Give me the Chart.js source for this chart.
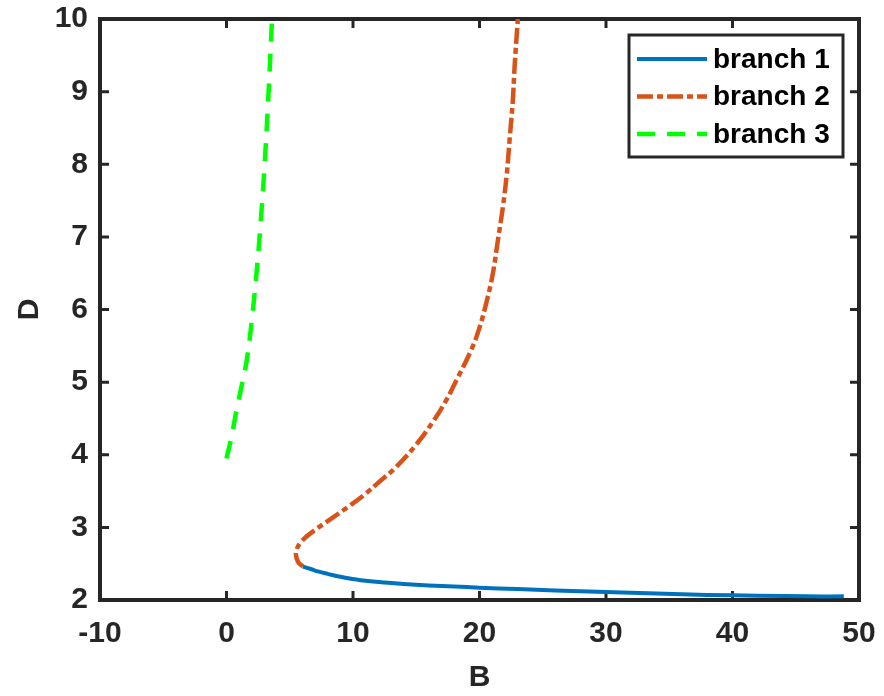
<!DOCTYPE html>
<html><head><meta charset="utf-8">
<script src="https://cdn.jsdelivr.net/npm/chart.js@4.4.1/dist/chart.umd.min.js"></script>
<style>html,body{margin:0;padding:0;background:#fff}#wrap{width:884px;height:696px}</style>
</head><body><div id="wrap"><canvas id="c" width="884" height="696"></canvas></div>
<script>
// ---- data ----
const seriesLabels = ['branch 1', 'branch 2', 'branch 3'];
const branch1B = [6.03, 6.6, 7.3, 8, 9, 10, 11, 12.5, 14, 16, 18, 20, 23, 26, 30, 34, 38, 42, 46, 48.8];
const branch1D = [2.46, 2.43, 2.39, 2.36, 2.32, 2.29, 2.265, 2.24, 2.22, 2.20, 2.185, 2.17, 2.15, 2.13, 2.11, 2.09, 2.07, 2.06, 2.05, 2.05];
const branch2B = [6.03, 5.64, 5.5, 5.9, 6.96, 8.28, 9.59, 10.9, 11.96, 13.4, 15.0, 16.3, 17.37, 18.16, 19.34, 20.0, 20.58, 21.05, 21.45, 21.84, 22.16, 22.37, 22.63, 22.77, 23.03];
const branch2D = [2.46, 2.53, 2.66, 2.80, 2.96, 3.12, 3.28, 3.45, 3.61, 3.83, 4.14, 4.45, 4.75, 5.02, 5.44, 5.75, 6.12, 6.49, 6.95, 7.40, 7.87, 8.32, 8.87, 9.33, 10];
const branch3B = [0, 0.4, 0.8, 1.2, 1.6, 2.0, 2.4, 2.7, 3.0, 3.3, 3.6];
const branch3D = [3.95, 4.25, 4.62, 4.95, 5.3, 5.85, 6.55, 7.2, 7.95, 8.9, 10];
const xTicks = [-10, 0, 10, 20, 30, 40, 50];
const yTicks = [2, 3, 4, 5, 6, 7, 8, 9, 10];

const toPts = (xs, ys) => xs.map((x, i) => ({x: x, y: ys[i]}));
const INK = '#262626';
const FONT = "'Liberation Sans', Arial, sans-serif";

const framePlugin = {
  id: 'frame',
  beforeDatasetsDraw(chart) {
    const ctx = chart.ctx, ca = chart.chartArea;
    const xs = chart.scales.x, ys = chart.scales.y;
    ctx.save();
    ctx.strokeStyle = INK;
    ctx.lineWidth = 4;
    ctx.lineCap = 'square';
    ctx.strokeRect(ca.left, ca.top, ca.right - ca.left, ca.bottom - ca.top);
    ctx.lineWidth = 3;
    ctx.lineCap = 'butt';
    const L = 9;
    xTicks.forEach(v => {
      const p = xs.getPixelForValue(v);
      ctx.beginPath();
      ctx.moveTo(p, ca.bottom); ctx.lineTo(p, ca.bottom - L);
      ctx.moveTo(p, ca.top); ctx.lineTo(p, ca.top + L);
      ctx.stroke();
    });
    yTicks.forEach(v => {
      const p = ys.getPixelForValue(v);
      ctx.beginPath();
      ctx.moveTo(ca.left, p); ctx.lineTo(ca.left + L, p);
      ctx.moveTo(ca.right, p); ctx.lineTo(ca.right - L, p);
      ctx.stroke();
    });
    ctx.restore();
  }
};

const legendPlugin = {
  id: 'boxLegend',
  afterDraw(chart) {
    const ctx = chart.ctx, ca = chart.chartArea;
    const right = ca.right - 16, top = ca.top + 16;
    const w = 214, h = 122;
    const left = right - w;
    ctx.save();
    ctx.fillStyle = '#fff';
    ctx.fillRect(left, top, w, h);
    ctx.strokeStyle = INK;
    ctx.lineWidth = 3;
    ctx.strokeRect(left, top, w, h);
    chart.data.datasets.forEach((ds, i) => {
      const cy = top + 24 + i * 37.5;
      ctx.strokeStyle = ds.borderColor;
      ctx.lineWidth = ds.borderWidth;
      ctx.lineCap = 'butt';
      ctx.setLineDash(ds.borderDash || []);
      ctx.beginPath();
      ctx.moveTo(left + 8, cy); ctx.lineTo(left + 78, cy);
      ctx.stroke();
      ctx.setLineDash([]);
      ctx.fillStyle = '#000';
      ctx.font = 'bold 28px ' + FONT;
      ctx.textBaseline = 'middle';
      ctx.textAlign = 'left';
      ctx.fillText(ds.label, left + 84, cy + 1);
    });
    ctx.restore();
  }
};

new Chart(document.getElementById('c'), {
  type: 'scatter',
  data: {
    datasets: [
      {label: seriesLabels[0], data: toPts(branch1B, branch1D), borderColor: '#0072BD', borderWidth: 4, showLine: true, pointRadius: 0, tension: 0.4},
      {label: seriesLabels[1], data: toPts(branch2B, branch2D), borderColor: '#D95319', borderWidth: 4.5, borderDash: [16, 4, 6, 4], showLine: true, pointRadius: 0, tension: 0.4},
      {label: seriesLabels[2], data: toPts(branch3B, branch3D), borderColor: '#00FF00', borderWidth: 4.5, borderDash: [18, 12], showLine: true, pointRadius: 0, tension: 0.4}
    ]
  },
  options: {
    responsive: false,
    animation: false,
    layout: {padding: {left: 0, right: 25, top: 19, bottom: 0}},
    plugins: {legend: {display: false}, tooltip: {enabled: false}},
    scales: {
      x: {
        type: 'linear', min: -10, max: 50,
        afterBuildTicks: s => { s.ticks = xTicks.map(v => ({value: v})); },
        grid: {display: false, drawTicks: false},
        border: {display: false},
        ticks: {color: INK, font: {family: FONT, size: 30, weight: 'bold'}, padding: 16, maxRotation: 0},
        title: {display: true, text: 'B', color: INK, font: {family: FONT, size: 30, weight: 'bold'}, padding: {top: 2, bottom: 0}},
        afterFit: s => { s.height = 96; s.paddingLeft = 0; s.paddingRight = 0; }
      },
      y: {
        type: 'linear', min: 2, max: 10,
        afterBuildTicks: s => { s.ticks = yTicks.map(v => ({value: v})); },
        grid: {display: false, drawTicks: false},
        border: {display: false},
        ticks: {color: INK, font: {family: FONT, size: 30, weight: 'bold'}, padding: 12},
        title: {display: true, text: 'D', color: INK, font: {family: FONT, size: 30, weight: 'bold'}, padding: {top: 12, bottom: 0}},
        afterFit: s => { s.width = 100; s.paddingTop = 0; s.paddingBottom = 0; }
      }
    }
  },
  plugins: [framePlugin, legendPlugin]
});
</script>
</body></html>
